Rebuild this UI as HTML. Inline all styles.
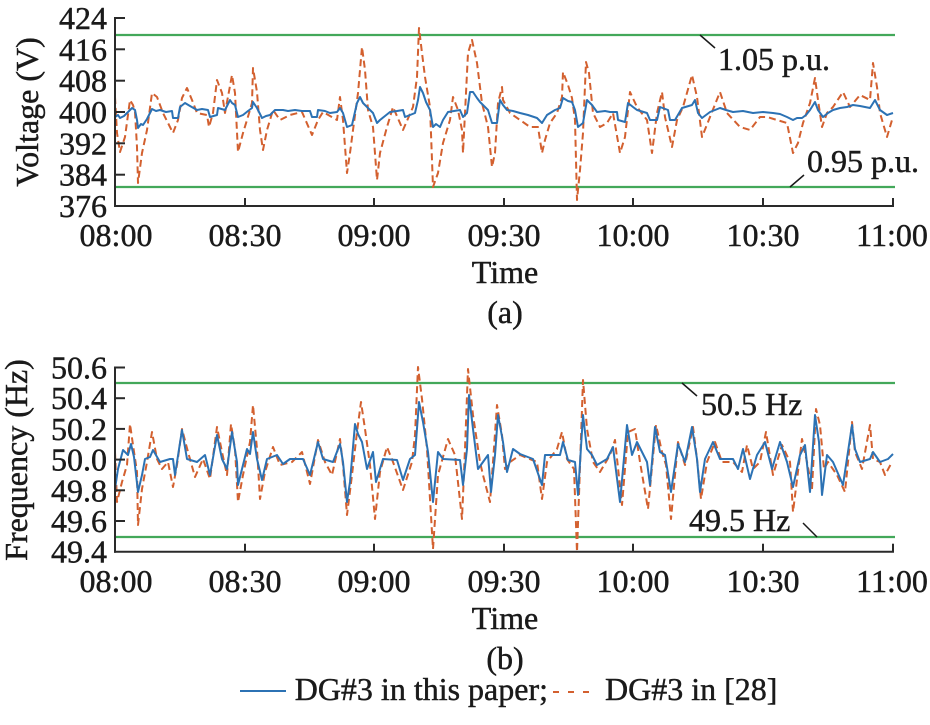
<!DOCTYPE html>
<html><head><meta charset="utf-8"><style>
html,body{margin:0;padding:0;background:#fff;}
svg{display:block;}
svg text{font-family:"Liberation Serif","DejaVu Serif",serif;fill:#1a1a1a;stroke:#1a1a1a;stroke-width:0.45px;}
</style></head><body>
<svg width="930" height="725" viewBox="0 0 930 725" xmlns="http://www.w3.org/2000/svg" font-family="Liberation Serif, DejaVu Serif, serif">
<rect width="930" height="725" fill="#fff"/>

<!-- ============ TOP PLOT (Voltage) ============ -->
<line x1="116" y1="35" x2="895" y2="35" stroke="#43a85a" stroke-width="2.2"/>
<line x1="116" y1="187" x2="895" y2="187" stroke="#43a85a" stroke-width="2.2"/>

<polyline fill="none" stroke="#d3602f" stroke-width="2" stroke-dasharray="7,4" stroke-linejoin="round" points="
115,97 117,133 120,152 125,137 130,100 133,105 135,112 137,147 138,183 142,153 147,130 152,93 157,97 163,113 173,133 178,120 182,98 187,88 192,100 197,113 207,115 209,127 213,113 217,80 222,93 225,113 232,75 235,93 238,152 243,133 247,120 252,103 253,68 257,92 260,130 263,150 267,130 273,110 280,120 290,115 302,112 312,135 318,120 323,112 337,120 340,97 343,120 347,173 350,153 353,130 358,93 362,47 365,70 368,110 373,127 377,180 380,153 387,127 393,107 403,130 413,107 417,77 419,28 422,53 425,77 430,107 433,187 438,173 443,143 450,120 453,97 458,110 462,130 463,153 468,53 472,40 477,63 482,103 488,127 492,167 495,153 498,103 502,87 503,100 510,113 520,120 530,127 538,127 542,153 545,140 550,123 557,113 562,97 563,72 568,85 572,98 575,120 577,200 580,170 583,133 586,62 589,73 593,113 600,127 607,123 613,113 620,153 625,137 630,92 637,107 647,120 652,153 657,113 662,92 665,117 672,147 677,120 683,107 692,75 697,97 702,137 710,117 720,92 727,113 740,127 750,130 760,117 767,117 777,120 787,123 793,153 798,143 803,123 810,103 815,78 818,100 822,127 827,113 833,107 843,92 850,107 860,95 870,100 873,63 877,87 880,113 887,137 892,120"/>

<polyline fill="none" stroke="#2c72b4" stroke-width="2" stroke-linejoin="round" points="
115,117 118,115 120,118 124,116 127,113 132,108 135,110 137,120 138,128 141,124 143,125 147,119 152,109 156,111 160,110 166,112 172,111 173,118 178,118 180,107 185,103 190,106 197,110 202,109 208,110 210,117 217,115 218,108 225,110 230,100 232,103 235,105 238,117 243,115 248,111 252,108 253,102 257,108 262,118 266,116 270,115 275,110 283,110 288,111 295,110 302,111 310,111 312,117 317,117 318,110 325,111 330,113 337,112 340,108 343,113 347,127 352,125 357,103 360,97 363,103 368,108 373,113 377,123 380,120 385,116 390,112 397,111 403,110 405,117 410,115 415,113 418,100 420,87 423,93 426,102 430,110 433,127 436,124 440,127 443,120 448,112 454,111 460,110 463,117 467,113 470,92 473,92 477,98 480,102 488,110 492,123 497,123 500,100 503,105 507,110 513,111 520,113 528,115 537,118 542,123 547,115 555,110 560,108 563,98 568,101 572,102 575,110 578,127 583,123 587,100 592,105 597,112 605,111 610,112 617,112 618,120 625,122 628,103 633,107 637,110 647,113 650,120 657,120 660,107 668,110 670,120 675,120 682,108 692,105 695,100 698,113 702,118 710,112 720,108 726,110 733,112 743,111 753,113 763,112 773,113 780,114 787,117 793,120 797,118 802,118 806,115 810,110 815,102 818,110 823,117 828,113 833,110 840,108 847,107 853,105 860,106 870,108 875,100 880,110 887,115 893,113"/>

<g stroke="#2a2a2a" stroke-width="2" fill="none">
<line x1="115" y1="17" x2="115" y2="207"/>
<line x1="114" y1="206" x2="894" y2="206"/>
<line x1="115" y1="18" x2="125" y2="18"/>
<line x1="115" y1="49.3" x2="125" y2="49.3"/>
<line x1="115" y1="80.7" x2="125" y2="80.7"/>
<line x1="115" y1="112" x2="125" y2="112"/>
<line x1="115" y1="143.3" x2="125" y2="143.3"/>
<line x1="115" y1="174.7" x2="125" y2="174.7"/>
<line x1="245" y1="206" x2="245" y2="198"/>
<line x1="374" y1="206" x2="374" y2="198"/>
<line x1="504" y1="206" x2="504" y2="198"/>
<line x1="633" y1="206" x2="633" y2="198"/>
<line x1="763" y1="206" x2="763" y2="198"/>
<line x1="893" y1="206" x2="893" y2="198"/>
</g>
<g font-size="32" text-anchor="end">
<text x="107" y="29">424</text>
<text x="107" y="60.3">416</text>
<text x="107" y="91.7">408</text>
<text x="107" y="123">400</text>
<text x="107" y="154.3">392</text>
<text x="107" y="185.7">384</text>
<text x="107" y="217">376</text>
</g>
<g font-size="32" text-anchor="middle">
<text x="116" y="246">08:00</text>
<text x="245" y="246">08:30</text>
<text x="374" y="246">09:00</text>
<text x="504" y="246">09:30</text>
<text x="633" y="246">10:00</text>
<text x="763" y="246">10:30</text>
<text x="892" y="246">11:00</text>
<text x="505" y="283">Time</text>
<text x="505" y="323">(a)</text>
</g>
<text font-size="32" text-anchor="middle" transform="translate(38,112) rotate(-90)">Voltage (V)</text>
<line x1="700" y1="35" x2="715" y2="48" stroke="#1a1a1a" stroke-width="1.5"/>
<text x="718" y="70" font-size="32">1.05 p.u.</text>
<line x1="790" y1="187" x2="804" y2="175" stroke="#1a1a1a" stroke-width="1.5"/>
<text x="807" y="172" font-size="32">0.95 p.u.</text>

<!-- ============ BOTTOM PLOT (Frequency) ============ -->
<line x1="116" y1="383" x2="895" y2="383" stroke="#43a85a" stroke-width="2.2"/>
<line x1="116" y1="537" x2="895" y2="537" stroke="#43a85a" stroke-width="2.2"/>

<polyline fill="none" stroke="#d3602f" stroke-width="2" stroke-dasharray="7,4" stroke-linejoin="round" points="
115,452 117,502 122,482 127,465 130,424 133,445 137,472 138,525 142,489 147,462 152,432 157,459 162,469 168,462 173,487 177,465 182,429 188,452 195,477 203,459 210,479 217,427 222,452 227,475 231,424 235,449 238,502 243,475 250,442 253,405 257,449 260,499 265,472 273,447 280,465 292,462 302,452 310,484 318,440 325,462 332,475 340,439 343,465 347,515 352,475 357,432 361,402 365,429 370,465 375,519 380,472 387,447 393,462 403,490 412,462 415,435 418,367 422,399 427,449 433,549 438,475 448,439 455,455 462,519 465,449 468,369 473,415 480,462 483,475 490,502 493,462 497,405 502,435 505,469 510,462 520,455 537,462 542,499 547,462 557,449 562,432 567,459 574,469 577,552 579,495 583,380 587,429 593,462 600,472 610,455 615,440 622,505 628,432 635,429 640,462 648,509 656,425 662,452 666,465 671,519 678,442 685,465 693,427 697,459 701,499 707,462 715,442 722,462 733,462 742,472 747,445 753,469 760,462 766,432 773,475 782,445 790,462 793,512 802,439 807,462 812,489 816,409 820,425 824,469 828,462 837,475 845,492 852,422 855,452 862,469 870,425 873,459 880,462 885,475 892,462"/>

<polyline fill="none" stroke="#2c72b4" stroke-width="2" stroke-linejoin="round" points="
115,489 118,469 123,450 128,455 131,444 134,457 138,492 142,475 145,459 150,457 153,450 160,462 170,459 173,459 175,475 182,430 187,459 197,462 205,455 210,475 217,435 222,459 227,469 232,432 237,462 238,485 242,469 247,449 250,454 253,432 257,459 262,480 267,459 277,455 283,464 290,459 303,459 310,475 318,442 323,459 333,462 340,444 343,462 347,502 350,482 355,424 358,434 362,442 367,469 373,452 376,482 383,459 397,460 403,480 410,459 415,455 419,402 423,422 428,452 433,502 438,452 443,459 460,460 463,485 467,449 469,395 473,429 478,469 488,455 491,492 495,455 498,415 503,442 507,472 513,449 520,454 533,459 542,485 545,455 560,455 563,442 568,460 575,462 578,495 583,415 587,449 592,455 597,465 607,459 613,447 620,502 627,425 632,455 637,442 647,462 650,485 655,427 660,452 665,455 671,492 678,444 685,462 692,427 697,459 700,492 705,459 713,442 720,459 733,459 738,469 743,449 750,479 757,455 765,442 772,469 780,442 787,462 793,487 800,455 805,445 810,492 815,415 819,442 822,495 827,455 833,462 843,485 852,425 855,449 860,462 870,459 873,452 880,462 888,459 893,454"/>

<g stroke="#2a2a2a" stroke-width="2" fill="none">
<line x1="115" y1="366.5" x2="115" y2="552.7"/>
<line x1="114" y1="551.7" x2="894" y2="551.7"/>
<line x1="115" y1="367.5" x2="125" y2="367.5"/>
<line x1="115" y1="398.2" x2="125" y2="398.2"/>
<line x1="115" y1="428.9" x2="125" y2="428.9"/>
<line x1="115" y1="459.6" x2="125" y2="459.6"/>
<line x1="115" y1="490.3" x2="125" y2="490.3"/>
<line x1="115" y1="521" x2="125" y2="521"/>
<line x1="245" y1="551.7" x2="245" y2="543.7"/>
<line x1="374" y1="551.7" x2="374" y2="543.7"/>
<line x1="504" y1="551.7" x2="504" y2="543.7"/>
<line x1="633" y1="551.7" x2="633" y2="543.7"/>
<line x1="763" y1="551.7" x2="763" y2="543.7"/>
<line x1="893" y1="551.7" x2="893" y2="543.7"/>
</g>
<g font-size="32" text-anchor="end">
<text x="107" y="378.5">50.6</text>
<text x="107" y="409.2">50.4</text>
<text x="107" y="439.9">50.2</text>
<text x="107" y="470.6">50.0</text>
<text x="107" y="501.3">49.8</text>
<text x="107" y="532">49.6</text>
<text x="107" y="562.7">49.4</text>
</g>
<g font-size="32" text-anchor="middle">
<text x="116" y="592">08:00</text>
<text x="245" y="592">08:30</text>
<text x="374" y="592">09:00</text>
<text x="504" y="592">09:30</text>
<text x="633" y="592">10:00</text>
<text x="763" y="592">10:30</text>
<text x="892" y="592">11:00</text>
<text x="505" y="629">Time</text>
<text x="505" y="669">(b)</text>
</g>
<text font-size="32" text-anchor="middle" transform="translate(27,460) rotate(-90)">Frequency (Hz)</text>
<line x1="682" y1="383" x2="697" y2="396" stroke="#1a1a1a" stroke-width="1.5"/>
<text x="701" y="415" font-size="32">50.5 Hz</text>
<line x1="803" y1="523" x2="817" y2="537" stroke="#1a1a1a" stroke-width="1.5"/>
<text x="689" y="531" font-size="32">49.5 Hz</text>

<!-- ============ LEGEND ============ -->
<line x1="240" y1="691" x2="286" y2="691" stroke="#2c72b4" stroke-width="2"/>
<text x="548" y="700" font-size="32" text-anchor="end">DG#3 in this paper;</text>
<line x1="553" y1="692" x2="598" y2="692" stroke="#d3602f" stroke-width="2" stroke-dasharray="6,9"/>
<text x="605" y="700" font-size="32">DG#3 in [28]</text>
</svg>
</body></html>
